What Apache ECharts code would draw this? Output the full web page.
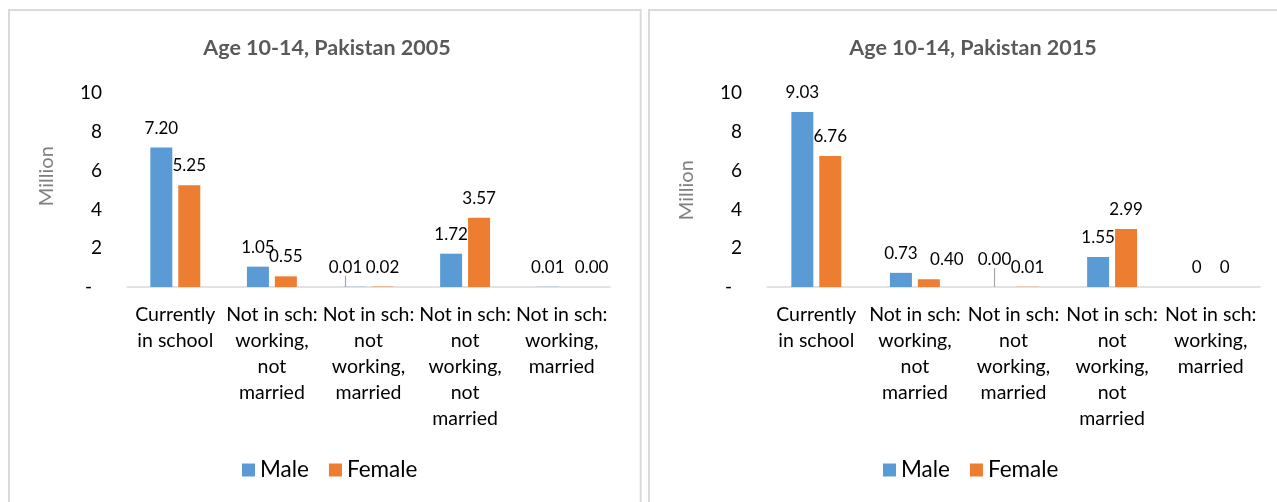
<!DOCTYPE html>
<html>
<head>
<meta charset="utf-8">
<script src="https://cdn.jsdelivr.net/npm/echarts@6/dist/echarts.min.js"></script>
<style>
  html, body { margin: 0; padding: 0; background: #ffffff; }
  #chart { width: 1277px; height: 502px; }
</style>
</head>
<body>
<div id="chart"></div>
<script>
// Categories of children aged 10-14 by schooling / work / marriage status
const categories = [
  'Currently\nin school',
  'Not in sch:\nworking,\nnot\nmarried',
  'Not in sch:\nnot\nworking,\nmarried',
  'Not in sch:\nnot\nworking,\nnot\nmarried',
  'Not in sch:\nworking,\nmarried'
];

// Population in millions, as printed on the bars
const male2005   = ['7.20', '1.05', '0.01', '1.72', '0.01'];
const female2005 = ['5.25', '0.55', '0.02', '3.57', '0.00'];
const male2015   = ['9.03', '0.73', '0.00', '1.55', '0'];
const female2015 = ['6.76', '0.40', '0.01', '2.99', '0'];

const titles = ['Age 10-14, Pakistan 2005', 'Age 10-14, Pakistan 2015'];
const seriesNames = ['Male', 'Female'];
const yMin = 0, yMax = 10, yStep = 2;

// Label nudges for crowded labels (dx, dy in px, and whether a leader line is drawn)
const labelNudges = {
  m0: { 2: { dx: -9, dy: 0, line: true } },
  f0: { 4: { dx: 16, dy: 0 } },
  m1: { 2: { dx: -5, dy: -8, line: true } },
  f1: { 1: { dx: 18, dy: 0 } }
};

const FONT = 'Lato, "Open Sans", sans-serif';
const BLUE = '#5B9BD5';
const ORANGE = '#ED7D31';

const chart = echarts.init(document.getElementById('chart'), null, { renderer: 'canvas' });

const grids = [
  { left: 127, width: 483, top: 93.3, height: 193.7 },
  { left: 767, width: 493, top: 93.3, height: 193.7 }
];

function makeSeries(name, labels, gridIndex, color, key) {
  const nudges = labelNudges[key] || {};
  return {
    name: name,
    type: 'bar',
    xAxisIndex: gridIndex,
    yAxisIndex: gridIndex,
    barWidth: 22,
    barGap: '27%',
    itemStyle: { color: color },
    data: labels.map((t, i) => ({
      value: Number(t),
      labelLine: { show: !!(nudges[i] && nudges[i].line) }
    })),
    label: {
      show: true,
      position: 'top',
      distance: 11,
      fontFamily: FONT,
      fontSize: 17,
      color: '#000',
      formatter: p => labels[p.dataIndex]
    },
    labelLine: {
      lineStyle: { color: '#a6a6a6', width: 1.2 },
      length2: 0,
      smooth: false
    },
    labelLayout: p => {
      const n = nudges[p.dataIndex];
      return n ? { dx: n.dx, dy: n.dy } : {};
    }
  };
}

const option = {
  backgroundColor: '#ffffff',
  animation: false,
  textStyle: { fontFamily: FONT },
  graphic: [
    { type: 'rect', shape: { x: 9, y: 10, width: 631.7, height: 520 },
      style: { fill: 'none', stroke: '#dadada', lineWidth: 2 }, silent: true },
    { type: 'rect', shape: { x: 649, y: 10, width: 660, height: 520 },
      style: { fill: 'none', stroke: '#dadada', lineWidth: 2 }, silent: true }
  ],
  title: titles.map((t, i) => ({
    text: t,
    left: i === 0 ? 322 : 968,
    top: 32,
    textAlign: 'center',
    textStyle: { fontFamily: FONT, fontWeight: 'bold', fontSize: 21.5, color: '#595959' }
  })),
  legend: [242, 883].map(x => ({
    data: seriesNames,
    left: x,
    top: 457,
    padding: 0,
    icon: 'rect',
    itemWidth: 13,
    itemHeight: 13,
    itemGap: 20,
    textStyle: { fontFamily: FONT, fontSize: 22.5, color: '#000', lineHeight: 26 }
  })),
  grid: grids,
  xAxis: grids.map((g, i) => ({
    type: 'category',
    gridIndex: i,
    data: categories,
    axisLine: { show: true, lineStyle: { color: '#d9d9d9', width: 1.5 } },
    axisTick: { show: false },
    splitLine: { show: false },
    axisLabel: {
      interval: 0,
      margin: 15,
      fontFamily: FONT,
      fontSize: 19.5,
      lineHeight: 26,
      color: '#000'
    }
  })),
  yAxis: grids.map((g, i) => ({
    type: 'value',
    gridIndex: i,
    min: yMin,
    max: yMax,
    interval: yStep,
    axisLine: { show: false },
    axisTick: { show: false },
    splitLine: { show: false },
    axisLabel: {
      margin: 25,
      fontFamily: FONT,
      fontSize: 19,
      color: '#000',
      formatter: v => (v === 0 ? '{d|-}' : String(v)),
      rich: { d: { fontFamily: FONT, fontSize: 19, color: '#000', padding: [0, 10, 0, 0] } }
    },
    name: 'Million',
    nameLocation: 'middle',
    nameGap: 70,
    nameTextStyle: {
      fontFamily: FONT,
      fontSize: 20,
      color: '#7f7f7f',
      padding: i === 0 ? [0, 0, 0, 28] : [0, 0, 0, 0]
    }
  })),
  series: [
    makeSeries('Male', male2005, 0, BLUE, 'm0'),
    makeSeries('Female', female2005, 0, ORANGE, 'f0'),
    makeSeries('Male', male2015, 1, BLUE, 'm1'),
    makeSeries('Female', female2015, 1, ORANGE, 'f1')
  ]
};

chart.setOption(option);
</script>
</body>
</html>
